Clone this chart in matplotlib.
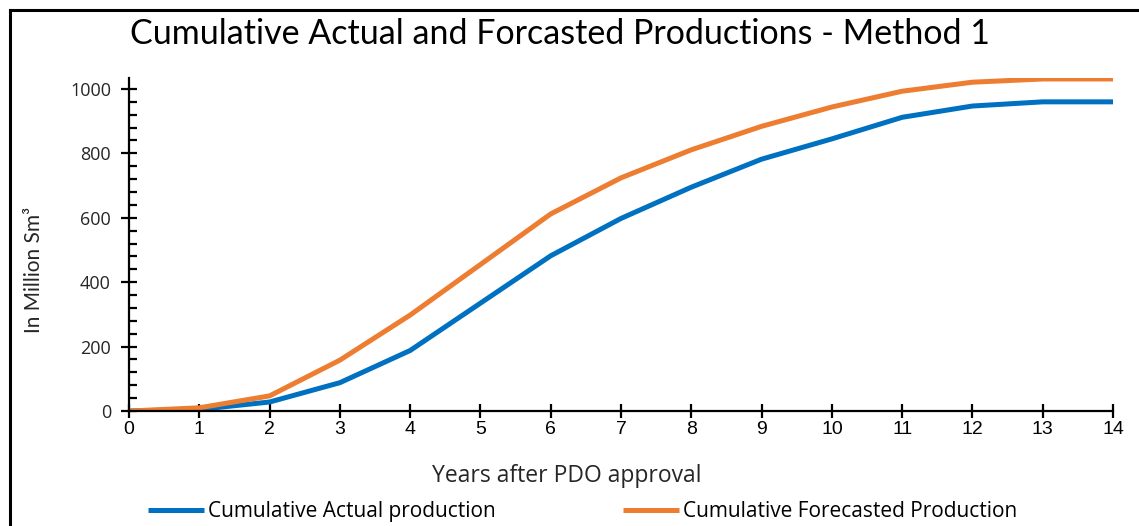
import numpy as np
import matplotlib
matplotlib.use("Agg")
import matplotlib.pyplot as plt
from matplotlib.ticker import MultipleLocator
from matplotlib.lines import Line2D

years = list(range(15))
actual = [0, 5, 28, 88, 188, 335, 482, 598, 695, 782, 845, 912, 947, 960, 960]
forecast = [0, 10, 47, 158, 298, 455, 612, 724, 811, 884, 944, 993, 1021, 1031, 1031]

BLUE = "#0070C0"
ORANGE = "#ED7D31"
TEXT = "#262626"

plt.rcParams["font.family"] = ["Lato", "DejaVu Sans"]

fig = plt.figure(figsize=(11.39, 5.26), dpi=100)
ax = fig.add_axes([0.1133, 0.2186, 0.8639, 0.6331])

ax.plot(years, actual, color=BLUE, lw=3.6, solid_capstyle="butt",
        label="Cumulative Actual production")
ax.plot(years, forecast, color=ORANGE, lw=3.6, solid_capstyle="butt",
        label="Cumulative Forecasted Production")

ax.set_xlim(0, 14)
ax.set_ylim(0, 1034)
ax.xaxis.set_major_locator(MultipleLocator(1))
ax.yaxis.set_major_locator(MultipleLocator(200))
ax.yaxis.set_minor_locator(MultipleLocator(40))

for s in ("top", "right"):
    ax.spines[s].set_visible(False)
for s in ("left", "bottom"):
    ax.spines[s].set_linewidth(1.6)
    ax.spines[s].set_color("black")

ax.tick_params(axis="x", which="major", direction="inout", length=10, width=1.6,
               labelsize=14, pad=2)
ax.tick_params(axis="y", which="major", direction="inout", length=12, width=1.6,
               labelsize=13, pad=7, labelcolor=TEXT)
ax.tick_params(axis="y", which="minor", direction="in", length=6, width=1.6)
for lbl in ax.get_xticklabels():
    lbl.set_fontfamily("Liberation Sans")
for lbl in ax.get_yticklabels():
    lbl.set_fontfamily("Open Sans")

ax.set_xlabel("Years after PDO approval", fontsize=16.5, color=TEXT,
              fontfamily="Open Sans")
ax.xaxis.label.set_va("center")
ax.xaxis.set_label_coords(0.445, -0.195)

ax.set_ylabel("In Million Sm³", fontsize=15, color=TEXT)
ax.yaxis.label.set_va("center")
ax.yaxis.set_label_coords(-0.0965, 0.423)

fig.text(0.4917, 0.935, "Cumulative Actual and Forcasted Productions - Method 1",
         ha="center", va="center", fontsize=24.5, color="black")

fig.legend(loc="center", bbox_to_anchor=(0.5114, 0.027), ncol=2, frameon=False,
           prop={"family": "Open Sans", "size": 15},
           handlelength=2.7, handletextpad=0.19, columnspacing=6.1)

# outer frame (top and left edges)
fig.add_artist(Line2D([10 / 1139, 1.0], [1 - 10 / 526] * 2, color="black", lw=2.2,
                      transform=fig.transFigure))
fig.add_artist(Line2D([10 / 1139] * 2, [0.0, 1 - 10 / 526], color="black", lw=2.2,
                      transform=fig.transFigure))

fig.savefig("out.png", dpi=100)
